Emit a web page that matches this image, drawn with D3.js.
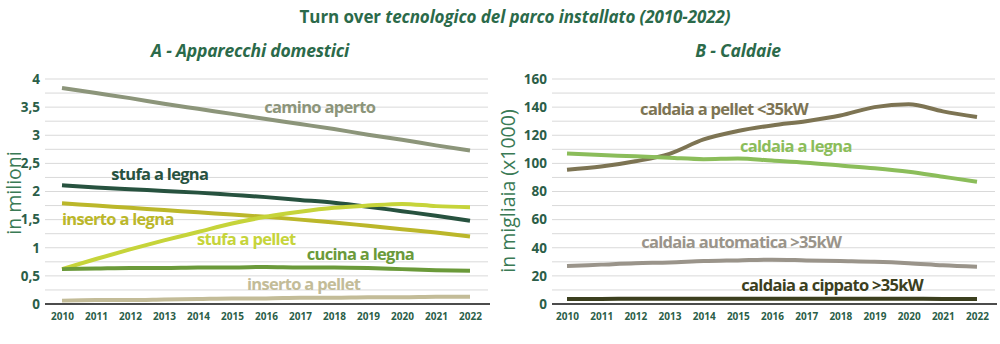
<!DOCTYPE html>
<html>
<head>
<meta charset="utf-8">
<script src="https://cdn.jsdelivr.net/npm/d3@7"></script>
<style>
  body { margin: 0; background: #fff; }
  svg { display: block; font-family: "Open Sans", sans-serif; }
</style>
</head>
<body>
<svg width="1000" height="344"></svg>
<script>
const svg = d3.select('svg');

// years on the x axis
const years = d3.range(2010, 2023);

// A - Apparecchi domestici (milioni)
const caminoAperto   = [3.84, 3.75, 3.66, 3.56, 3.47, 3.38, 3.29, 3.20, 3.11, 3.01, 2.92, 2.82, 2.73];
const stufaLegna     = [2.11, 2.07, 2.04, 2.01, 1.98, 1.94, 1.90, 1.85, 1.80, 1.73, 1.65, 1.57, 1.48];
const insertoLegna   = [1.79, 1.75, 1.71, 1.67, 1.63, 1.59, 1.55, 1.50, 1.45, 1.39, 1.33, 1.27, 1.20];
const stufaPellet    = [0.62, 0.80, 0.97, 1.13, 1.28, 1.43, 1.55, 1.64, 1.71, 1.75, 1.78, 1.74, 1.72];
const cucinaLegna    = [0.62, 0.63, 0.64, 0.64, 0.65, 0.65, 0.66, 0.65, 0.65, 0.64, 0.62, 0.60, 0.59];
const insertoPellet  = [0.06, 0.07, 0.07, 0.08, 0.09, 0.10, 0.10, 0.11, 0.11, 0.12, 0.12, 0.13, 0.13];

// B - Caldaie (migliaia)
const caldaiaPellet      = [95.4, 97.7, 101.5, 106.8, 117, 123, 127, 130, 134, 140, 142, 137, 133];
const caldaiaLegna       = [107, 106, 105, 104, 103, 103.5, 102, 100.5, 98.5, 96.5, 94, 90.5, 87];
const caldaiaAutomatica  = [27, 28, 29, 29.5, 30.5, 31, 31.5, 31, 30.5, 30, 29, 27.5, 26.5];
const caldaiaCippato     = [3.6, 3.6, 3.7, 3.7, 3.8, 3.8, 3.8, 3.8, 3.8, 3.7, 3.7, 3.6, 3.5];

// tick labels
const ticksA = [0, 0.5, 1, 1.5, 2, 2.5, 3, 3.5, 4];
const ticksB = [0, 20, 40, 60, 80, 100, 120, 140, 160];

const seriesA = [
  { name: 'camino aperto',   values: caminoAperto,  color: '#8c957a', lx: 2015.95, ly: 3.40 },
  { name: 'stufa a legna',   values: stufaLegna,    color: '#27523f', lx: 2011.45, ly: 2.21 },
  { name: 'inserto a legna', values: insertoLegna,  color: '#bbb72a', lx: 2010.0,  ly: 1.41 },
  { name: 'stufa a pellet',  values: stufaPellet,   color: '#c6d43a', lx: 2013.97, ly: 1.05 },
  { name: 'cucina a legna',  values: cucinaLegna,   color: '#6b9a3a', lx: 2017.2,  ly: 0.78 },
  { name: 'inserto a pellet',values: insertoPellet, color: '#c3bc98', lx: 2015.44, ly: 0.25 }
];

const seriesB = [
  { name: 'caldaia a pellet <35kW',    values: caldaiaPellet,     color: '#7d7453', lx: 2012.14, ly: 134.5 },
  { name: 'caldaia a legna',           values: caldaiaLegna,      color: '#8bbd5a', lx: 2015.06, ly: 108.4 },
  { name: 'caldaia automatica >35kW',  values: caldaiaAutomatica, color: '#9a948a', lx: 2012.17, ly: 39.6 },
  { name: 'caldaia a cippato >35kW',   values: caldaiaCippato,    color: '#3c3f1e', lx: 2015.1,  ly: 9.5 }
];

const titleColor = '#2b6a4a';

// main title
const title = svg.append('text')
  .attr('x', 515).attr('y', 23)
  .attr('text-anchor', 'middle')
  .attr('font-size', 17).attr('font-weight', 700)
  .attr('letter-spacing', -0.1)
  .attr('fill', titleColor);
title.append('tspan').text('Turn over ');
title.append('tspan').attr('font-style', 'italic').text('tecnologico del parco installato (2010-2022)');

function panel(opt) {
  const x = d3.scaleLinear().domain([2010, 2022]).range([opt.x0, opt.x1]);
  const y = d3.scaleLinear().domain([0, opt.max]).range([304, 79]);
  const g = svg.append('g');

  // subtitle
  g.append('text')
    .attr('x', opt.titleX).attr('y', 57)
    .attr('text-anchor', 'middle')
    .attr('font-size', 17.5).attr('font-weight', 700).attr('font-style', 'italic')
    .attr('letter-spacing', -0.2)
    .attr('fill', titleColor)
    .text(opt.title);

  // gridlines (every half tick)
  const grid = d3.range(0, opt.max + 0.0001, opt.max / 16);
  g.append('g').selectAll('line')
    .data(grid.filter(d => d > 0))
    .join('line')
    .attr('x1', opt.g0).attr('x2', opt.g1)
    .attr('y1', d => y(d)).attr('y2', d => y(d))
    .attr('stroke', '#d9d9d9').attr('stroke-width', 1);

  // y axis labels
  const yAxis = g.append('g')
    .attr('transform', `translate(${opt.g0 - 3},0)`)
    .call(d3.axisLeft(y).tickValues(opt.ticks).tickSize(0).tickPadding(2)
      .tickFormat(d => String(d).replace('.', ',')));
  yAxis.select('.domain').remove();
  yAxis.selectAll('text')
    .attr('font-size', 13.5).attr('font-weight', 700)
    .attr('fill', '#2b5e48').attr('font-family', '"Open Sans", sans-serif');

  // baseline
  g.append('line')
    .attr('x1', opt.g0).attr('x2', opt.g1 + 2)
    .attr('y1', y(0)).attr('y2', y(0))
    .attr('stroke', '#111').attr('stroke-width', 1.5);

  // x axis labels
  const xAxis = g.append('g')
    .attr('transform', `translate(0,${y(0)})`)
    .call(d3.axisBottom(x).tickValues(years).tickSize(0).tickPadding(9).tickFormat(d3.format('d')));
  xAxis.select('.domain').remove();
  xAxis.selectAll('text')
    .attr('font-size', 10).attr('font-weight', 700)
    .attr('fill', '#2b5e48').attr('font-family', '"Open Sans", sans-serif');

  // axis title
  g.append('text')
    .attr('transform', `translate(${opt.axisX},${opt.axisY}) rotate(-90)`)
    .attr('text-anchor', 'middle')
    .attr('font-size', 19.5)
    .attr('fill', '#3a7a55')
    .text(opt.axisTitle);

  const line = d3.line()
    .x((d, i) => x(years[i]))
    .y(d => y(d))
    .curve(d3.curveMonotoneX);

  g.append('g').selectAll('path')
    .data(opt.series)
    .join('path')
    .attr('d', d => line(d.values))
    .attr('fill', 'none')
    .attr('stroke', d => d.color)
    .attr('stroke-width', 4);

  g.append('g').selectAll('text')
    .data(opt.series)
    .join('text')
    .attr('x', d => x(d.lx)).attr('y', d => y(d.ly))
    .attr('font-size', 16.5).attr('font-weight', 700)
    .attr('letter-spacing', -0.7)
    .attr('fill', d => d.color)
    .text(d => d.name);
}

panel({
  title: 'A - Apparecchi domestici', titleX: 250,
  x0: 62, x1: 470, g0: 45, g1: 488, max: 4, ticks: ticksA,
  series: seriesA, axisTitle: 'in milioni', axisX: 21, axisY: 193
});

panel({
  title: 'B - Caldaie', titleX: 738,
  x0: 567, x1: 977, g0: 552, g1: 995, max: 160, ticks: ticksB,
  series: seriesB, axisTitle: 'in migliaia (x1000)', axisX: 515, axisY: 191
});
</script>
</body>
</html>
